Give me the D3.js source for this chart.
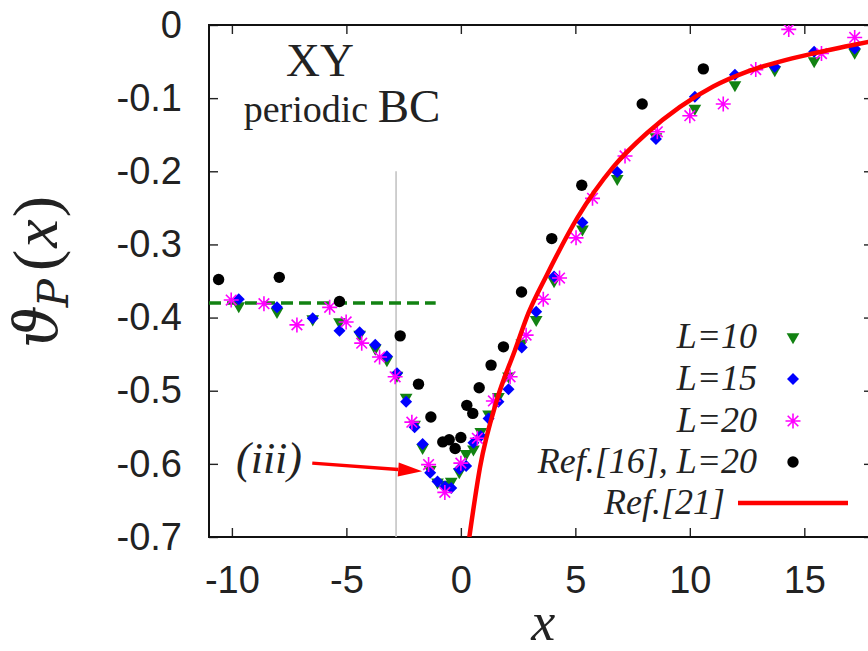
<!DOCTYPE html>
<html>
<head>
<meta charset="utf-8">
<script src="https://cdn.jsdelivr.net/npm/d3@7"></script>
<style>
  body { margin: 0; background: #fff; }
  svg { display: block; }
</style>
</head>
<body>
<div class="chart-box"></div>
<script>
let width = 868;
let height = 651;

// L=10 and L=15 share the same x grid
let l10X = [-9.70, -8.03, -6.47, -5.30, -4.42, -3.74, -3.23, -2.79, -2.39, -2.02, -1.67, -1.34, -1.02, -0.69, -0.42, -0.07, 0.23, 0.55, 0.87, 1.21, 1.64, 2.08, 2.66, 3.29, 4.07, 5.31, 6.83, 8.52, 10.22, 11.97, 13.71, 15.43, 17.2];
let l10Y = [-0.384, -0.392, -0.402, -0.406, -0.423, -0.442, -0.458, -0.479, -0.509, -0.546, -0.578, -0.608, -0.625, -0.628, -0.624, -0.611, -0.586, -0.580, -0.556, -0.532, -0.508, -0.480, -0.435, -0.403, -0.350, -0.279, -0.210, -0.153, -0.114, -0.082, -0.0615, -0.049, -0.0374];
let l15X = l10X;
let l15Y = [-0.375, -0.386, -0.401, -0.418, -0.420, -0.437, -0.453, -0.476, -0.515, -0.550, -0.573, -0.612, -0.624, -0.631, -0.633, -0.607, -0.603, -0.571, -0.562, -0.538, -0.515, -0.498, -0.441, -0.392, -0.344, -0.270, -0.201, -0.156, -0.098, -0.068, -0.057, -0.0365, -0.032];
let l20X = [-10.03, -8.60, -7.16, -5.73, -5.01, -4.33, -3.55, -2.87, -2.14, -1.41, -0.70, 0.0, 0.72, 1.42, 2.15, 2.85, 3.60, 4.31, 5.03, 5.75, 7.17, 8.58, 10.0, 11.46, 12.88, 14.32, 15.75, 17.2];
let l20Y = [-0.376, -0.381, -0.410, -0.386, -0.406, -0.435, -0.454, -0.481, -0.543, -0.601, -0.639, -0.599, -0.565, -0.514, -0.481, -0.424, -0.375, -0.346, -0.291, -0.237, -0.179, -0.146, -0.124, -0.108, -0.061, -0.006, -0.039, -0.017];
let ref16X = [-10.58, -7.93, -5.30, -2.65, -1.85, -1.31, -0.79, -0.51, -0.25, 0.0, 0.26, 0.52, 0.80, 1.32, 1.86, 2.65, 3.97, 5.28, 7.92, 10.59];
let ref16Y = [-0.348, -0.345, -0.378, -0.425, -0.491, -0.536, -0.570, -0.567, -0.579, -0.564, -0.520, -0.531, -0.496, -0.465, -0.440, -0.365, -0.292, -0.219, -0.108, -0.060];
let ref21X = [0.37, 0.84, 1.57, 2.37, 2.95, 3.75, 5.1, 6.66, 8.12, 9.57, 11.02, 12.48, 13.93, 15.38, 16.55, 18.0];
let ref21Y = [-0.70, -0.604, -0.513, -0.444, -0.394, -0.342, -0.263, -0.194, -0.148, -0.112, -0.084, -0.064, -0.050, -0.039, -0.031, -0.022];

let xTicks = [-10, -5, 0, 5, 10, 15];
let yTicks = [0, -0.1, -0.2, -0.3, -0.4, -0.5, -0.6, -0.7];
let plateau = -0.38;      // dashed green line level
let plateauEnd = -1.1;
let vLineX = -2.83;       // grey vertical marker
let vLineTop = -0.2;
let arrowFrom = [-6.49, -0.599];
let arrowTo = [-1.69, -0.610];

let legendLabels = ["L=10", "L=15", "L=20", "Ref.[16], L=20", "Ref.[21]"];

let green = "#128212", blue = "#0000ff", magenta = "#ff00ff", red = "#ff0000";

let svg = d3.select(".chart-box")
  .append("svg")
  .attr("width", width)
  .attr("height", height);

let x = d3.scaleLinear().domain([-11, 18]).range([209, 873]);
let y = d3.scaleLinear().domain([-0.7, 0]).range([537, 25]);

svg.append("clipPath").attr("id", "plot-clip")
  .append("rect")
  .attr("x", x(-11)).attr("y", y(0))
  .attr("width", x(18) - x(-11)).attr("height", y(-0.7) - y(0));

// axes with inward ticks, mirrored on top/right
function styleAxis(g) {
  g.select(".domain").remove();
  g.selectAll(".tick line").attr("stroke", "#222").attr("stroke-width", 1.4);
  g.selectAll(".tick text")
    .attr("fill", "#222")
    .style("font-family", "'Liberation Sans', Arial, sans-serif")
    .style("font-size", "38px");
}

svg.append("g")
  .attr("transform", `translate(0,${y(-0.7)})`)
  .call(d3.axisBottom(x).tickValues(xTicks).tickSize(-9).tickSizeOuter(0).tickPadding(29).tickFormat(d => String(d)))
  .call(styleAxis);
svg.append("g")
  .attr("transform", `translate(0,${y(0)})`)
  .call(d3.axisTop(x).tickValues(xTicks).tickSize(-9).tickSizeOuter(0).tickFormat(""))
  .call(styleAxis);
svg.append("g")
  .attr("transform", `translate(${x(-11)},0)`)
  .call(d3.axisLeft(y).tickValues(yTicks).tickSize(-9).tickSizeOuter(0).tickPadding(27).tickFormat(d => d === 0 ? "0" : d.toFixed(1)))
  .call(styleAxis);
svg.append("g")
  .attr("transform", `translate(${x(18)},0)`)
  .call(d3.axisRight(y).tickValues(yTicks).tickSize(-9).tickSizeOuter(0).tickFormat(""))
  .call(styleAxis);

svg.append("rect")
  .attr("x", x(-11)).attr("y", y(0))
  .attr("width", x(18) - x(-11)).attr("height", y(-0.7) - y(0))
  .attr("fill", "none").attr("stroke", "#111").attr("stroke-width", 2);

// grey vertical line and dashed plateau
svg.append("line")
  .attr("x1", x(vLineX)).attr("x2", x(vLineX))
  .attr("y1", y(vLineTop)).attr("y2", y(-0.7))
  .attr("stroke", "#c4c4c4").attr("stroke-width", 1.6);

svg.append("line")
  .attr("x1", x(-11)).attr("x2", x(plateauEnd))
  .attr("y1", y(plateau)).attr("y2", y(plateau))
  .attr("stroke", green).attr("stroke-width", 3.5)
  .attr("stroke-dasharray", "12,6");

// markers
let triDown = d3.symbol().type(d3.symbolTriangle).size(70);
let diamond = d3.symbol().type(d3.symbolSquare).size(72);
let starPath = r => {
  let d = r * Math.SQRT1_2;
  return `M${-r},0L${r},0M0,${-r}L0,${r}M${-d},${-d}L${d},${d}M${-d},${d}L${d},${-d}`;
};

function drawTri(g, cx, cy) {
  g.append("path").attr("d", triDown()).attr("fill", green)
    .attr("transform", `translate(${cx},${cy}) rotate(180)`);
}
function drawDiamond(g, cx, cy) {
  g.append("path").attr("d", diamond()).attr("fill", blue)
    .attr("transform", `translate(${cx},${cy}) rotate(45)`);
}
function drawStar(g, cx, cy) {
  g.append("path").attr("d", starPath(7.5)).attr("fill", "none")
    .attr("stroke", magenta).attr("stroke-width", 1.6)
    .attr("transform", `translate(${cx},${cy})`);
}
function drawDot(g, cx, cy) {
  g.append("circle").attr("cx", cx).attr("cy", cy).attr("r", 5.7).attr("fill", "#000");
}

let pts = svg.append("g").attr("clip-path", "url(#plot-clip)");
let g10 = pts.append("g"), g15 = pts.append("g"), g20 = pts.append("g"), g16 = pts.append("g");
l10X.forEach((v, i) => drawTri(g10, x(v), y(l10Y[i])));
l15X.forEach((v, i) => drawDiamond(g15, x(v), y(l15Y[i])));
l20X.forEach((v, i) => drawStar(g20, x(v), y(l20Y[i])));
ref16X.forEach((v, i) => drawDot(g16, x(v), y(ref16Y[i])));

let line = d3.line()
  .x(d => x(d[0]))
  .y(d => y(d[1]))
  .curve(d3.curveMonotoneX);

pts.append("path")
  .datum(ref21X.map((v, i) => [v, ref21Y[i]]))
  .attr("d", line)
  .attr("fill", "none")
  .attr("stroke", red)
  .attr("stroke-width", 4.5);

// arrow for (iii)
let ax1 = x(arrowFrom[0]), ay1 = y(arrowFrom[1]), ax2 = x(arrowTo[0]), ay2 = y(arrowTo[1]);
let ang = Math.atan2(ay2 - ay1, ax2 - ax1);
let headLen = 24, headW = 7;
let bx = ax2 - headLen * Math.cos(ang), by = ay2 - headLen * Math.sin(ang);
svg.append("line")
  .attr("x1", ax1).attr("y1", ay1).attr("x2", bx).attr("y2", by)
  .attr("stroke", red).attr("stroke-width", 3.5);
svg.append("path")
  .attr("d", `M${ax2},${ay2}L${bx - headW * Math.sin(ang)},${by + headW * Math.cos(ang)}L${bx + headW * Math.sin(ang)},${by - headW * Math.cos(ang)}Z`)
  .attr("fill", red);

svg.append("text")
  .attr("x", 302).attr("y", 473)
  .attr("text-anchor", "end")
  .style("font-family", "'Liberation Serif', 'Times New Roman', serif")
  .style("font-style", "italic")
  .style("font-size", "44px")
  .attr("fill", "#222")
  .text("(iii)");

// title text in the corner
svg.append("text")
  .attr("x", 320).attr("y", 76)
  .attr("text-anchor", "middle")
  .style("font-family", "'Liberation Serif', 'Times New Roman', serif")
  .style("font-size", "47px")
  .attr("fill", "#222")
  .text("XY");

let sub = svg.append("text")
  .attr("x", 342).attr("y", 122)
  .attr("text-anchor", "middle")
  .style("font-family", "'Liberation Serif', 'Times New Roman', serif")
  .attr("fill", "#222");
sub.append("tspan").style("font-size", "38px").text("periodic ");
sub.append("tspan").style("font-size", "47px").text("BC");

// axis titles
svg.append("text")
  .attr("x", x(3.6)).attr("y", 640)
  .attr("text-anchor", "middle")
  .style("font-family", "'Liberation Serif', 'Times New Roman', serif")
  .style("font-style", "italic")
  .style("font-size", "54px")
  .attr("fill", "#222")
  .text("x");

let yt = svg.append("text")
  .attr("transform", "translate(57,272) rotate(-90)")
  .attr("text-anchor", "middle")
  .style("font-family", "'DejaVu Serif', 'Liberation Serif', serif")
  .style("font-size", "60px")
  .attr("fill", "#222");
yt.append("tspan").style("font-style", "italic").text("\u03D1");
yt.append("tspan").style("font-style", "italic").style("font-size", "42px").attr("dy", 11).attr("dx", -2).text("P");
yt.append("tspan").attr("dy", -11).attr("dx", 8).style("font-family", "'Liberation Serif', serif").style("font-size", "64px").text("(");
yt.append("tspan").attr("dx", 2).style("font-style", "italic").style("font-family", "'Liberation Serif', serif").style("font-size", "64px").text("x");
yt.append("tspan").attr("dx", 2).style("font-family", "'Liberation Serif', serif").style("font-size", "64px").text(")");

// legend
let legendY = [337, 379, 421, 462, 503];
let legend = svg.append("g")
  .style("font-family", "'Liberation Serif', 'Times New Roman', serif")
  .style("font-style", "italic")
  .style("font-size", "36px")
  .attr("fill", "#222");

legendLabels.forEach((lab, i) => {
  let last = i === legendLabels.length - 1;
  legend.append("text")
    .attr("x", last ? 725 : 757)
    .attr("y", legendY[i] + 11)
    .attr("text-anchor", "end")
    .text(lab);
});
drawTri(legend, 793, legendY[0]);
drawDiamond(legend, 793, legendY[1]);
drawStar(legend, 793, legendY[2]);
drawDot(legend, 793, legendY[3]);
legend.append("line")
  .attr("x1", 738).attr("x2", 848)
  .attr("y1", legendY[4]).attr("y2", legendY[4])
  .attr("stroke", red).attr("stroke-width", 4.5);
</script>
</body>
</html>
